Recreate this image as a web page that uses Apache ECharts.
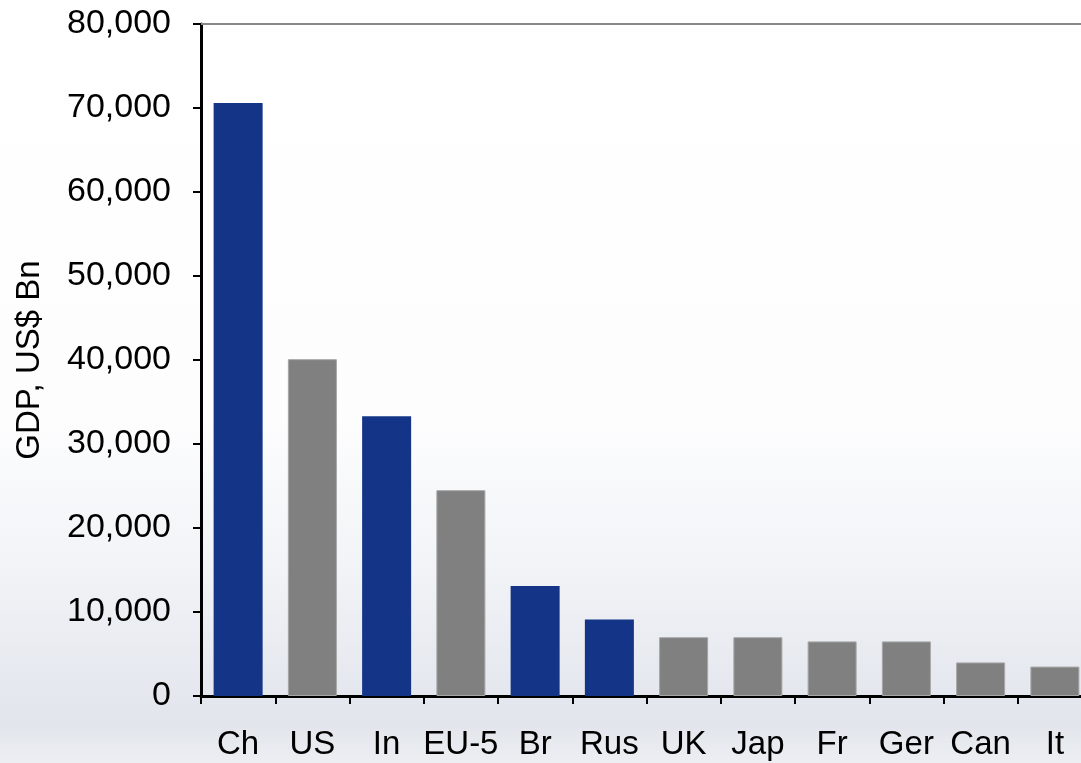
<!DOCTYPE html>
<html>
<head>
<meta charset="utf-8">
<script src="https://cdn.jsdelivr.net/npm/echarts@6/dist/echarts.min.js"></script>
<style>
  html, body { margin: 0; padding: 0; background: #fff; }
  #chart { width: 1081px; height: 763px; }
</style>
</head>
<body>
<div id="chart"></div>
<script>
// Projected GDP by economy, US$ billions
const categories = ['Ch', 'US', 'In', 'EU-5', 'Br', 'Rus', 'UK', 'Jap', 'Fr', 'Ger', 'Can', 'It'];
const gdpValues  = [70600, 40100, 33300, 24500, 13100, 9100, 7000, 7000, 6500, 6500, 4000, 3500];
// BRIC economies are drawn in blue, the rest in grey
const isBric     = [true, false, true, false, true, true, false, false, false, false, false, false];
const yTicks     = { min: 0, max: 80000, interval: 10000 };

const BLUE = '#133487';
const GREY = '#808080';
const FONT = '"Liberation Sans", Arial, sans-serif';

const chart = echarts.init(document.getElementById('chart'), null, { renderer: 'canvas' });

const option = {
  // pale sky-toned slide background, white at the top, bluish grey near the bottom
  backgroundColor: {
    type: 'linear', x: 0, y: 0, x2: 0, y2: 1,
    colorStops: [
      { offset: 0.00, color: '#ffffff' },
      { offset: 0.55, color: '#fdfdfe' },
      { offset: 0.75, color: '#f1f3f6' },
      { offset: 0.88, color: '#e6e9ef' },
      { offset: 0.95, color: '#e2e6ec' },
      { offset: 1.00, color: '#eceef2' }
    ]
  },
  animation: false,
  // the plot runs a little past the right edge of the canvas
  grid: {
    left: 201, width: 891, top: 24, bottom: 67,
    containLabel: false,
    outerBoundsMode: 'none'
  },
  xAxis: [
    {
      type: 'category',
      data: categories,
      position: 'bottom',
      axisLine: { show: true, lineStyle: { color: '#000', width: 3 } },
      axisTick: { show: true, length: 8, lineStyle: { color: '#000', width: 2 } },
      axisLabel: { color: '#000', fontSize: 33, fontFamily: FONT, margin: 32, interval: 0 }
    },
    {
      type: 'category',
      data: categories,
      position: 'top',
      axisLine: { show: true, lineStyle: { color: '#888', width: 2 } },
      axisTick: { show: false },
      axisLabel: { show: false }
    }
  ],
  yAxis: {
    type: 'value',
    min: yTicks.min, max: yTicks.max, interval: yTicks.interval,
    name: 'GDP, US$ Bn',
    nameLocation: 'middle',
    nameRotate: 90,
    nameGap: 155,
    nameTextStyle: { color: '#000', fontSize: 33, fontFamily: FONT },
    axisLine: { show: true, lineStyle: { color: '#000', width: 3 } },
    axisTick: { show: true, length: 8, lineStyle: { color: '#000', width: 2 } },
    axisLabel: {
      color: '#000', fontSize: 34, fontFamily: FONT, margin: 30,
      formatter: v => v.toLocaleString('en-US')
    },
    splitLine: { show: false }
  },
  series: [{
    type: 'bar',
    data: gdpValues.map((v, i) => ({
      value: v,
      itemStyle: isBric[i]
        ? { color: BLUE }
        : { color: GREY, borderColor: '#a6a6a6', borderWidth: 1 }
    })),
    barCategoryGap: '34%'
  }]
};

chart.setOption(option);
</script>
</body>
</html>
